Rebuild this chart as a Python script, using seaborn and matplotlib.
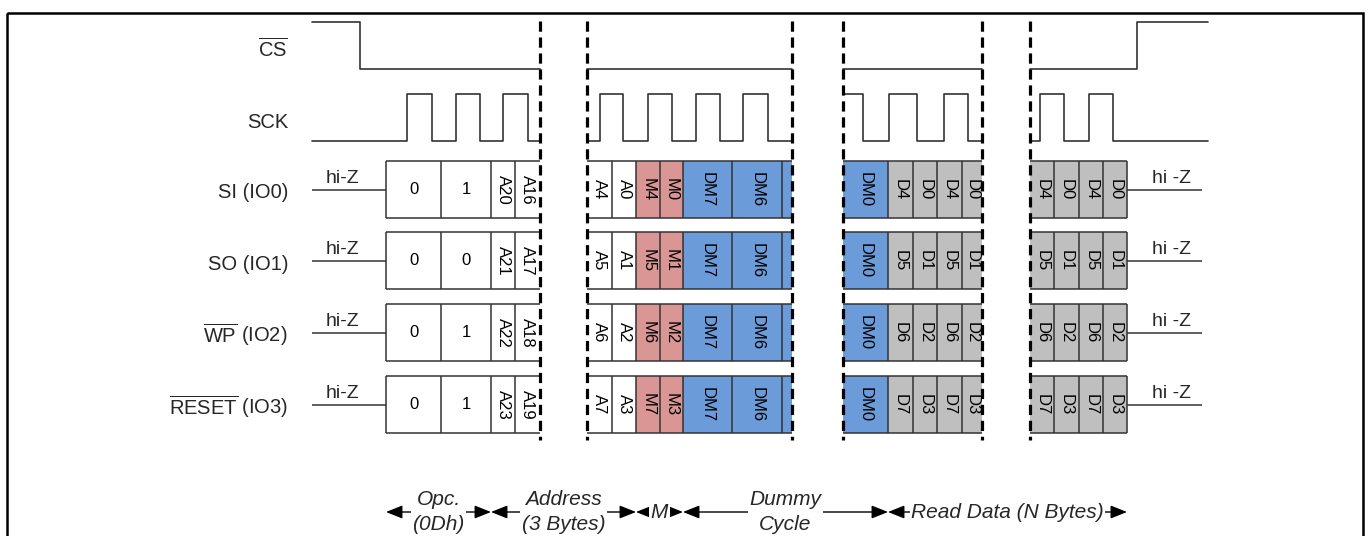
import matplotlib
matplotlib.use('Agg')
import matplotlib.pyplot as plt
import seaborn as sns
import pandas as pd
from matplotlib.patches import Rectangle

# signal names (left column)
signal_names = [r'$\overline{\mathrm{CS}}$', 'SCK', 'SI (IO0)', 'SO (IO1)',
                r'$\overline{\mathrm{WP}}$ (IO2)', r'$\overline{\mathrm{RESET}}$ (IO3)']

# time windows of the four visible sections (breaks in between)
section_spans = [(312, 540), (587, 792), (843, 982), (1030, 1208)]

# CS# waveform: level at section start + toggle times
cs_start = [1, 0, 0, 0]
cs_toggles = [[360], [], [], [1137]]

# SCK waveform
sck_start = [0, 0, 1, 0]
sck_toggles = [[407, 432, 456, 480, 503, 528],
               [600, 623, 648, 672, 696, 720, 743, 768],
               [863, 889, 917, 944, 968],
               [1040, 1064, 1089, 1113]]

# data cells on the IO lines
cell_edges = [[386, 441, 491, 515, 540],
              [587, 612, 636, 660, 683, 732, 782, 792],
              [843, 888, 913, 937, 962, 982],
              [1030, 1054, 1079, 1103, 1127]]
cell_kinds = [['op', 'op', 'ad', 'ad'],
              ['ad', 'ad', 'm', 'm', 'dm', 'dm', 'dm'],
              ['dm', 'd', 'd', 'd', 'd'],
              ['d', 'd', 'd', 'd']]
si_cells = [['0', '1', 'A20', 'A16'], ['A4', 'A0', 'M4', 'M0', 'DM7', 'DM6', ''],
            ['DM0', 'D4', 'D0', 'D4', 'D0'], ['D4', 'D0', 'D4', 'D0']]
so_cells = [['0', '0', 'A21', 'A17'], ['A5', 'A1', 'M5', 'M1', 'DM7', 'DM6', ''],
            ['DM0', 'D5', 'D1', 'D5', 'D1'], ['D5', 'D1', 'D5', 'D1']]
wp_cells = [['0', '1', 'A22', 'A18'], ['A6', 'A2', 'M6', 'M2', 'DM7', 'DM6', ''],
            ['DM0', 'D6', 'D2', 'D6', 'D2'], ['D6', 'D2', 'D6', 'D2']]
reset_cells = [['0', '1', 'A23', 'A19'], ['A7', 'A3', 'M7', 'M3', 'DM7', 'DM6', ''],
               ['DM0', 'D7', 'D3', 'D7', 'D3'], ['D7', 'D3', 'D7', 'D3']]

# phases along the bottom
phase_labels = ['Opc.\n(0Dh)', 'Address\n(3 Bytes)', 'M', 'Dummy\nCycle', 'Read Data (N Bytes)']
phase_bounds = [386, 491, 636, 683, 888, 1127]

kind_colors = {'op': 'white', 'ad': 'white', 'm': '#DA9694', 'dm': '#6B9BD8', 'd': '#BFBFBF'}

sns.set_theme(style='white')
plt.rcParams['font.family'] = ['Liberation Sans', 'DejaVu Sans']
plt.rcParams['mathtext.fontset'] = 'custom'
plt.rcParams['mathtext.rm'] = 'Liberation Sans'
plt.rcParams['mathtext.it'] = 'Liberation Sans:italic'

fig = plt.figure(figsize=(13.69, 5.36), dpi=100)
ax = fig.add_axes([0, 0, 1, 1])

wave_col = '#333333'
row_y = {'CS': (22, 69), 'SCK': (94, 141)}
io_top = [161, 232, 304, 376]
io_h = 57
label_y = [49, 122, 193, 264, 335, 407]
break_x = [540, 587, 792, 843, 982, 1030]


def step_frame(t0, t1, level, toggles, hi, lo):
    xs, ys = [t0], [level]
    for t in toggles:
        level = 1 - level
        xs.append(t)
        ys.append(level)
    xs.append(t1)
    ys.append(level)
    return pd.DataFrame({'t': xs, 'y': [hi if v else lo for v in ys]})


for (t0, t1), s, tg in zip(section_spans, cs_start, cs_toggles):
    df = step_frame(t0, t1, s, tg, *row_y['CS'])
    sns.lineplot(data=df, x='t', y='y', ax=ax, color=wave_col, lw=1.2,
                 drawstyle='steps-post', estimator=None, sort=False, legend=False)
for (t0, t1), s, tg in zip(section_spans, sck_start, sck_toggles):
    df = step_frame(t0, t1, s, tg, *row_y['SCK'])
    sns.lineplot(data=df, x='t', y='y', ax=ax, color=wave_col, lw=1.2,
                 drawstyle='steps-post', estimator=None, sort=False, legend=False)

for top, cells in zip(io_top, [si_cells, so_cells, wp_cells, reset_cells]):
    yc = top + io_h / 2
    for edges, kinds, labs in zip(cell_edges, cell_kinds, cells):
        for i, (k, lab) in enumerate(zip(kinds, labs)):
            x0, x1 = edges[i], edges[i + 1]
            ax.add_patch(Rectangle((x0, top), x1 - x0, io_h, facecolor=kind_colors[k],
                                   edgecolor='none', zorder=1))
            if lab:
                rot = 0 if len(lab) == 1 else -90
                ax.text((x0 + x1) / 2, yc, lab, ha='center', va='center',
                        rotation=rot, fontsize=12, color='black', zorder=3)
        ax.hlines([top, top + io_h], edges[0], edges[-1], color=wave_col, lw=1.1, zorder=2)
        inner = [e for e in edges if e not in break_x]
        ax.vlines(inner, top, top + io_h, color=wave_col, lw=1.1, zorder=2)
    # hi-Z lines
    ax.hlines(yc, 312, 386, color=wave_col, lw=1.1)
    ax.hlines(yc, 1127, 1202, color=wave_col, lw=1.1)
    ax.text(342, yc - 11, 'hi-Z', ha='center', va='center', fontsize=14)
    ax.text(1171, yc - 11, 'hi -Z', ha='center', va='center', fontsize=14)

# section breaks
ax.vlines(break_x, 21, 440, color='black', lw=2.3,
          linestyles=[(0, (3.2, 1.8))], zorder=4)

for name, y in zip(signal_names, label_y):
    ax.text(288, y, name, ha='right', va='center', fontsize=14.5)

# phase arrows
ya = 512
for i, lab in enumerate(phase_labels):
    x0, x1 = phase_bounds[i], phase_bounds[i + 1]
    ax.annotate('', xy=(x1, ya), xytext=(x0, ya),
                arrowprops=dict(arrowstyle='<|-|>,head_length=1.0,head_width=0.4',
                                color='black', lw=1, shrinkA=0, shrinkB=0,
                                mutation_scale=10))
    ax.text((x0 + x1) / 2, ya, lab, ha='center', va='center', fontsize=15,
            style='italic', linespacing=1.4, zorder=5,
            bbox=dict(facecolor='white', edgecolor='none', pad=1.0))

# outer frame
ax.add_patch(Rectangle((7, 12.5), 1356, 540, facecolor='none', edgecolor='black',
                       lw=1.8, zorder=6))

ax.set_xlim(0, 1369)
ax.set_ylim(536, 0)
ax.axis('off')
fig.savefig('out.png', dpi=100)
